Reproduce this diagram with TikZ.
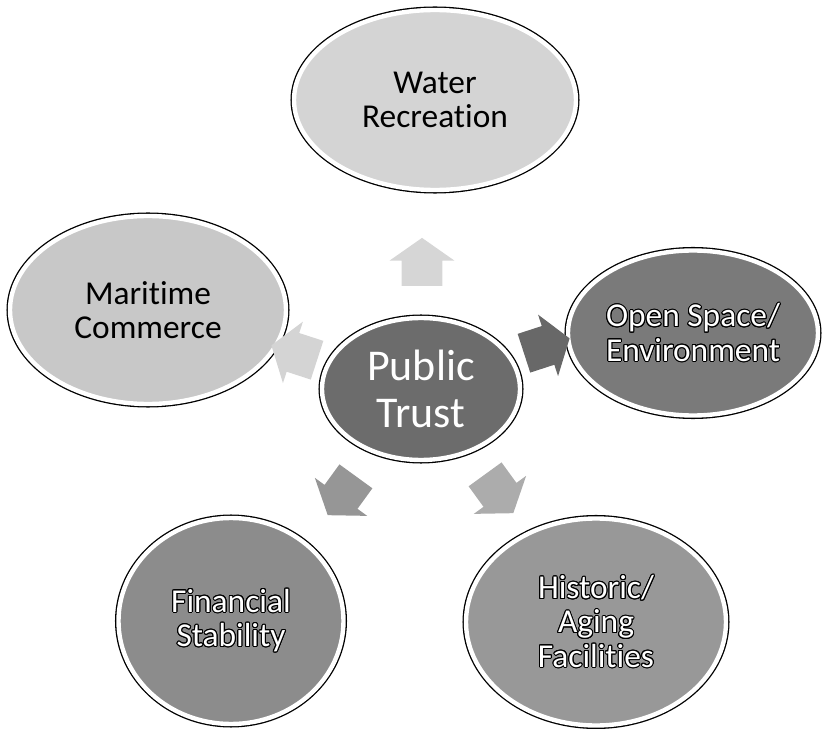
\documentclass[tikz,border=0pt]{standalone}
\usepackage{fontspec}
\setmainfont[Ligatures=NoCommon]{Carlito}
\usepackage{contour}
\contourlength{0.6pt}
\usetikzlibrary{shapes.geometric,shapes.arrows}
\definecolor{waterfill}{RGB}{212,212,212}
\definecolor{maritimefill}{RGB}{200,200,200}
\definecolor{openfill}{RGB}{122,122,122}
\definecolor{trustfill}{RGB}{108,108,108}
\definecolor{financefill}{RGB}{140,140,140}
\definecolor{historicfill}{RGB}{152,152,152}
\definecolor{uparrowfill}{RGB}{214,214,214}
\definecolor{leftarrowfill}{RGB}{212,212,212}
\definecolor{rightarrowfill}{RGB}{104,104,104}
\definecolor{llarrowfill}{RGB}{150,150,150}
\definecolor{lrarrowfill}{RGB}{172,172,172}
\tikzset{topic/.style={ellipse, fill=#1, draw=white, line width=2.5pt,
         preaction={draw=black, line width=4pt},
         inner sep=0pt, align=center,
         font=\fontsize{19}{19.5}\selectfont},
         spoke/.style={single arrow, fill=#1, draw=none,
         minimum height=0.96cm, inner xsep=0pt, inner ysep=0.4cm,
         single arrow head extend=0.24cm, single arrow tip angle=110}}
\newcommand{\ol}[1]{\contour{black}{#1}}

\begin{document}
\begin{tikzpicture}
\useasboundingbox (0,0) rectangle (16.5,-14.58);

% outer topics
\node [topic=waterfill, minimum width=5.64cm, minimum height=3.6cm] (water) at (8.7,-2.0) {Water\\Recreation};
\node [topic=maritimefill, minimum width=5.52cm, minimum height=3.76cm] (maritime) at (2.96,-6.2) {Maritime\\Commerce};
\node [topic=openfill, minimum width=5.0cm, minimum height=3.3cm, text=white] (open) at (13.86,-6.66) {\ol{Open Space/}\\\ol{Environment}};
\node [topic=financefill, minimum width=4.5cm, minimum height=4.12cm, text=white] (finance) at (4.62,-12.42) {\ol{Financial}\\\ol{Stability}};
\node [topic=historicfill, minimum width=5.2cm, minimum height=4.14cm, text=white] (historic) at (11.92,-12.44) {\ol{Historic/}\\\ol{Aging}\\\ol{Facilities}};

% centre
\node [topic=trustfill, minimum width=3.96cm, minimum height=2.84cm, text=white,
       font=\fontsize{25}{27}\selectfont] (trust) at (8.42,-7.78) {Public\\Trust};

% arrows out of the centre
\node [spoke=uparrowfill, rotate=90] (uparrow) at (8.44,-5.38) {};
\node [spoke=leftarrowfill, rotate=162] (leftarrow) at (6.02,-7.1) {};
\node [spoke=rightarrowfill, rotate=18] (rightarrow) at (10.8,-6.96) {};
\node [spoke=llarrowfill, rotate=-126] (llarrow) at (6.92,-9.8) {};
\node [spoke=lrarrowfill, rotate=-54] (lrarrow) at (9.9,-9.76) {};
\end{tikzpicture}
\end{document}
